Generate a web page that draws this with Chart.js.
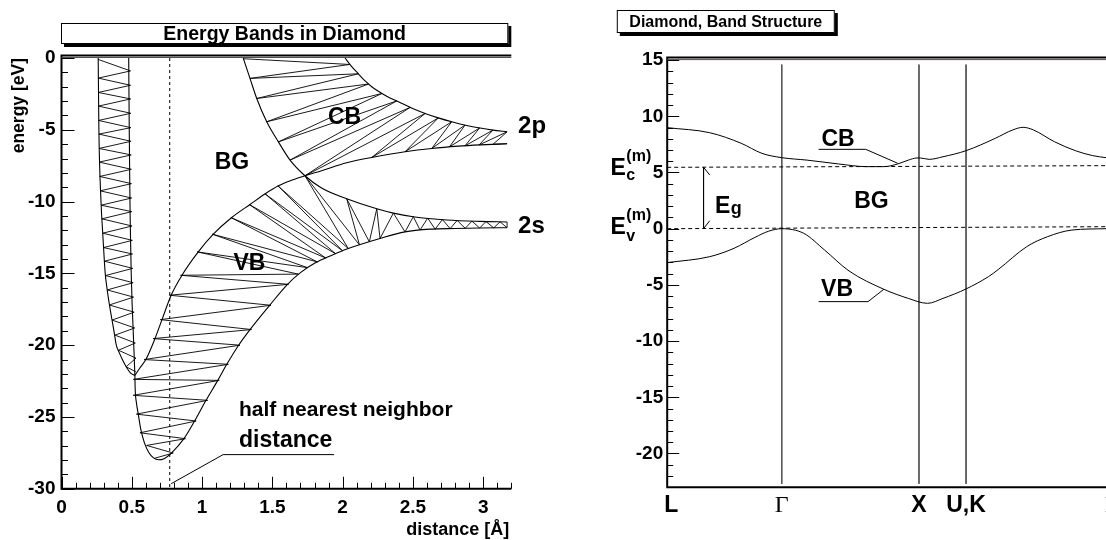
<!DOCTYPE html>
<html>
<head>
<meta charset="utf-8">
<title>Energy Bands in Diamond</title>
<script src="https://cdn.jsdelivr.net/npm/chart.js@4.4.1/dist/chart.umd.min.js"></script>
<style>
  html, body { margin: 0; padding: 0; background: #fff; }
  #page { position: relative; width: 1106px; height: 540px; overflow: hidden; }
  canvas { position: absolute; top: 0; }
</style>
</head>
<body>
<div id="page">
  <canvas id="levels" width="553" height="540" style="left:0"></canvas>
  <canvas id="bands" width="553" height="540" style="left:553px"></canvas>
</div>
<script>
const SANS = "'Liberation Sans', Arial, Helvetica, sans-serif";
const SERIF = "'Liberation Serif', 'Times New Roman', serif";

// ---------------- Left panel: levels vs. interatomic distance ----------------
const distanceTicks = [0, 0.5, 1, 1.5, 2, 2.5, 3];
const levelTicks = [0, -5, -10, -15, -20, -25, -30];

// narrow core band: inner and outer edges
const coreInner = [[0.261,0],[0.266,-5],[0.281,-10],[0.292,-12],[0.304,-14],[0.311,-15],[0.323,-16],[0.338,-17],[0.355,-18],[0.373,-19],[0.39,-20],[0.41,-20.5],[0.433,-21],[0.46,-21.5],[0.49,-21.92],[0.522,-22.1]];
const coreOuter = [[0.478,0],[0.482,-5],[0.487,-10],[0.49,-12],[0.494,-14],[0.496,-15],[0.499,-16],[0.502,-17],[0.506,-18],[0.51,-19],[0.514,-20],[0.518,-21],[0.522,-22.1]];
const coreZigzag = [[0.261,-0.1],[0.491,-0.9],[0.262,-1.4],[0.491,-1.9],[0.262,-2.4],[0.492,-2.85],[0.263,-3.35],[0.493,-3.85],[0.264,-4.35],[0.494,-4.85],[0.266,-5.3],[0.495,-5.8],[0.267,-6.3],[0.496,-6.75],[0.269,-7.25],[0.497,-7.75],[0.272,-8.25],[0.498,-8.75],[0.275,-9.25],[0.499,-9.75],[0.282,-10.25],[0.5,-10.7],[0.287,-11.2],[0.502,-11.7],[0.293,-12.2],[0.504,-12.7],[0.299,-13.2],[0.505,-13.65],[0.305,-14.15],[0.507,-14.65],[0.313,-15.15],[0.51,-15.65],[0.325,-16.15],[0.513,-16.65],[0.34,-17.2],[0.517,-17.7],[0.36,-18.25],[0.521,-18.8],[0.381,-19.3],[0.525,-19.85],[0.405,-20.35],[0.53,-20.9],[0.46,-21.5],[0.528,-21.85]];

// band edges, named after the atomic level they approach at large distance
const edge2sLow = [[0.522,-22.1],[0.524,-23.0],[0.533,-24.0],[0.546,-24.8],[0.565,-25.9],[0.59,-26.8],[0.62,-27.45],[0.655,-27.85],[0.69,-27.98],[0.73,-27.9],[0.782,-27.51],[0.871,-26.51],[0.947,-25.28],[1.028,-23.84],[1.112,-22.45],[1.176,-21.33],[1.26,-20.0],[1.341,-18.91],[1.481,-17.22],[1.608,-15.76],[1.7,-14.95],[1.8,-14.3],[1.92,-13.75],[2.04,-13.27],[2.266,-12.57],[2.444,-12.11],[2.622,-11.92],[2.8,-11.87],[2.978,-11.84],[3.17,-11.82]];
const edge2pLow = [[0.522,-22.1],[0.56,-21.55],[0.6,-21.0],[0.665,-19.54],[0.715,-18.22],[0.78,-16.52],[0.857,-15.13],[0.973,-13.5],[1.08,-12.27],[1.211,-11.11],[1.341,-10.2],[1.45,-9.45],[1.543,-8.9],[1.64,-8.5],[1.732,-8.2],[1.85,-7.85],[2.029,-7.3],[2.207,-6.93],[2.444,-6.53],[2.634,-6.3],[2.823,-6.14],[2.978,-6.05],[3.17,-5.97]];
const edge2sHigh = [[1.293,0],[1.341,-1.42],[1.389,-2.82],[1.46,-4.44],[1.543,-5.84],[1.626,-7.11],[1.732,-8.2],[1.85,-9.05],[2.029,-9.8],[2.243,-10.5],[2.361,-10.8],[2.503,-11.05],[2.741,-11.28],[2.978,-11.38],[3.17,-11.42]];
const edge2pHigh = [[2.017,0],[2.06,-0.55],[2.112,-1.1],[2.16,-1.6],[2.207,-2.0],[2.26,-2.35],[2.32,-2.7],[2.397,-3.05],[2.49,-3.48],[2.587,-3.86],[2.68,-4.17],[2.776,-4.44],[2.875,-4.68],[2.978,-4.88],[3.07,-5.02],[3.17,-5.14]];

// level traces filling the valence / 2s band and the conduction / 2p band
const valenceZigzag = [[0.66,-27.88],[0.795,-27.51],[0.605,-26.98],[0.882,-26.51],[0.558,-26.1],[0.958,-25.28],[0.533,-24.8],[1.04,-23.84],[0.51,-23.49],[1.122,-22.45],[0.512,-22.38],[1.187,-21.33],[0.588,-21.0],[1.27,-20.0],[0.652,-19.54],[1.352,-18.91],[0.703,-18.22],[1.49,-17.22],[0.768,-16.52],[1.615,-15.76],[0.847,-15.13],[1.685,-15.05],[0.965,-13.5],[1.75,-14.6],[1.073,-12.27],[1.82,-14.2],[1.205,-11.11],[1.88,-13.93],[1.336,-10.2],[1.95,-13.63],[1.447,-9.45],[2.0,-13.43],[1.54,-8.9],[2.04,-13.27],[1.732,-8.2],[2.12,-13.02],[2.029,-9.8],[2.19,-12.8],[2.243,-10.5],[2.266,-12.57],[2.361,-10.8],[2.444,-12.11],[2.503,-11.05],[2.551,-11.98],[2.605,-11.15],[2.658,-11.92],[2.71,-11.25],[2.765,-11.88],[2.815,-11.31],[2.872,-11.86],[2.92,-11.36],[2.975,-11.84],[3.02,-11.39],[3.075,-11.83],[3.12,-11.41],[3.17,-11.82],[3.17,-11.42]];
const conductionZigzag = [[1.293,-0.05],[2.05,-0.45],[1.341,-1.42],[2.112,-1.1],[1.389,-2.82],[2.185,-1.81],[1.46,-4.44],[2.28,-2.47],[1.543,-5.84],[2.385,-2.99],[1.626,-7.11],[2.48,-3.44],[1.732,-8.2],[2.587,-3.86],[2.207,-6.93],[2.681,-4.17],[2.444,-6.53],[2.776,-4.44],[2.634,-6.3],[2.871,-4.67],[2.76,-6.19],[2.975,-4.87],[2.87,-6.12],[3.07,-5.02],[2.97,-6.06],[3.17,-5.14],[3.07,-6.01],[3.17,-5.97]];

const halfNeighbour = 0.77;                  // half of the C-C bond length [Å]
const neighbourLeader = [[1.939,-27.62],[1.15,-27.62],[0.781,-29.64]];

// ---------------- Right panel: band structure along the k-path ----------------
const kNames = ['L', 'Γ', 'X', 'U,K', 'Γ'];
const kPos = [0, 0.835, 1.835, 2.178, 3.24];
const bandTicks = [15, 10, 5, 0, -5, -10, -15, -20];

const cbK = [0,0.31,0.539,0.691,0.835,1.02,1.249,1.452,1.579,1.68,1.757,1.82,1.845,1.909,2.01,2.178,2.391,2.517,2.594,2.67,2.822,2.975,3.101,3.198];
const cbE = [8.99,8.54,7.6,6.7,6.32,6.1,5.76,5.52,5.52,5.76,6.1,6.29,6.29,6.17,6.4,6.94,8.04,8.78,9.02,8.78,7.74,6.94,6.5,6.32];
const vbK = [0,0.31,0.488,0.64,0.74,0.835,0.995,1.147,1.325,1.579,1.757,1.897,2.01,2.178,2.341,2.416,2.62,2.772,2.95,3.198];
const vbE = [-3.02,-2.49,-1.74,-0.77,-0.22,0,-0.41,-1.9,-3.76,-5.39,-6.2,-6.64,-6.2,-5.36,-4.27,-3.6,-1.6,-0.71,-0.12,0];

const ecEdge = [5.46, 5.61];   // E_c^(m) marker at both ends of the path
const evEdge = [0, 0.18];      // E_v^(m) marker at both ends of the path
const gapMarkK = 0.265;
const cbLeader = [[1.104,7.06],[1.447,7.06],[1.68,5.82]];
const vbLeader = [[1.104,-6.49],[1.464,-6.49],[1.579,-5.39]];

// ---------------- helpers ----------------
const pts = list => list.map(([x, y]) => ({ x, y }));
const zip = (xs, ys) => xs.map((x, i) => ({ x, y: ys[i] }));

function line(data, extra) {
  return Object.assign({ data, borderColor: '#000', borderWidth: 1, pointRadius: 0, fill: false, tension: 0 }, extra || {});
}
const smooth = { cubicInterpolationMode: 'monotone', borderWidth: 1.1 };

function axisOptions(cfg) {
  const tickFont = { family: SANS, size: 19, weight: 'bold' };
  return {
    x: {
      type: 'linear', min: cfg.xMin, max: cfg.xMax,
      grid: { display: false, drawTicks: false }, border: { display: false },
      afterBuildTicks: s => { s.ticks = (cfg.xTicks || []).map(v => ({ value: v })); },
      ticks: { display: !!cfg.xTicks, autoSkip: false, maxRotation: 0, padding: cfg.xPad, color: '#000', font: tickFont, callback: v => String(v) },
      afterFit: s => { s.height = cfg.xHeight; }
    },
    y: {
      type: 'linear', min: cfg.yMin, max: cfg.yMax,
      grid: { display: false, drawTicks: false }, border: { display: false },
      afterBuildTicks: s => { s.ticks = cfg.yTicks.map(v => ({ value: v })); },
      ticks: { autoSkip: false, padding: cfg.yPad, color: '#000', font: tickFont, callback: v => String(v) },
      afterFit: s => { s.width = cfg.yWidth; }
    }
  };
}

function text(ctx, str, x, y, font, align, base) {
  ctx.font = font; ctx.textAlign = align; ctx.textBaseline = base;
  ctx.fillText(str, x, y);
}

function drawNote(ctx, n, xs, ys) {
  const px = xs.getPixelForValue(n.x), py = ys.getPixelForValue(n.y);
  ctx.fillStyle = '#000';
  text(ctx, n.text, px, py, `bold ${n.size}px ${SANS}`, n.align || 'left', n.base || 'alphabetic');
  if (n.sub || n.sup) {
    ctx.font = `bold ${n.size}px ${SANS}`;
    const w = ctx.measureText(n.text).width;
    if (n.sup) text(ctx, n.sup, px + w + 0.5, py + n.supDy, `bold ${n.smallSize}px ${SANS}`, 'left', 'alphabetic');
    if (n.sub) text(ctx, n.sub, px + w + 0.5, py + n.subDy, `bold ${n.smallSize}px ${SANS}`, 'left', 'alphabetic');
  }
}

function titleBox(ctx, b, str, size) {
  ctx.fillStyle = '#000';
  ctx.fillRect(b.x + 3, b.y + 3, b.w, b.h);
  ctx.fillStyle = '#fff';
  ctx.fillRect(b.x, b.y, b.w, b.h);
  ctx.strokeStyle = '#000'; ctx.lineWidth = 1;
  ctx.strokeRect(b.x + 0.5, b.y + 0.5, b.w - 1, b.h - 1);
  ctx.fillStyle = '#000';
  text(ctx, str, b.x + b.w / 2, b.y + b.h / 2 + 1, `bold ${size}px ${SANS}`, 'center', 'middle');
}

// frame, inward tick marks, title box, labels
function makeDecor(spec) {
  return {
    id: 'decor_' + spec.name,
    afterDraw(chart) {
      const ctx = chart.ctx, a = chart.chartArea, xs = chart.scales.x, ys = chart.scales.y;
      ctx.save();
      ctx.strokeStyle = '#000'; ctx.lineWidth = 2;
      ctx.beginPath();
      ctx.moveTo(a.left, a.top - 2.5); ctx.lineTo(a.right, a.top - 2.5);
      ctx.moveTo(a.left, a.top - 3.5); ctx.lineTo(a.left, a.bottom); ctx.lineTo(a.right, a.bottom);
      ctx.stroke();
      ctx.strokeStyle = '#a82a2a'; ctx.lineWidth = 1;
      ctx.beginPath(); ctx.moveTo(a.left, a.top - 0.5); ctx.lineTo(a.right, a.top - 0.5); ctx.stroke();

      ctx.strokeStyle = '#000'; ctx.lineWidth = 1;
      ctx.beginPath();
      if (spec.xStep) {
        const n = Math.round((xs.max - xs.min) / spec.xStep);
        for (let i = 0; i <= n; i++) {
          const v = xs.min + i * spec.xStep;
          const major = Math.abs(v / spec.xMajor - Math.round(v / spec.xMajor)) < 1e-6;
          const p = Math.round(xs.getPixelForValue(v)) + 0.5;
          ctx.moveTo(p, a.bottom); ctx.lineTo(p, a.bottom - (major ? spec.xLen[0] : spec.xLen[1]));
        }
      }
      for (let v = Math.ceil(ys.min); v <= ys.max + 1e-9; v += spec.yStep) {
        const major = v % spec.yMajor === 0;
        const p = Math.round(ys.getPixelForValue(v)) + 0.5;
        ctx.moveTo(a.left, p); ctx.lineTo(a.left + (major ? spec.yLen[0] : spec.yLen[1]), p);
      }
      ctx.stroke();

      titleBox(ctx, spec.box(a), spec.title, spec.titleSize);
      spec.notes.forEach(n => drawNote(ctx, n, xs, ys));
      if (spec.extra) spec.extra(ctx, a, xs, ys);
      ctx.restore();
    }
  };
}

Chart.defaults.animation = false;
Chart.defaults.color = '#000';

// ---------------- left chart ----------------
const levelNotes = [
  { text: 'BG', x: 1.213, y: -7.29, size: 23, align: 'center', base: 'middle' },
  { text: 'CB', x: 2.014, y: -4.15, size: 23, align: 'center', base: 'middle' },
  { text: 'VB', x: 1.337, y: -14.31, size: 23, align: 'center', base: 'middle' },
  { text: '2p', x: 3.248, y: -5.23, size: 24 },
  { text: '2s', x: 3.248, y: -12.2, size: 24 },
  { text: 'half nearest neighbor', x: 1.263, y: -24.95, size: 21 },
  { text: 'distance', x: 1.263, y: -27.09, size: 23 }
];

new Chart(document.getElementById('levels'), {
  type: 'line',
  data: {
    datasets: [
      line(pts(coreInner), smooth),
      line(pts(coreOuter), smooth),
      line(pts(edge2sLow), smooth),
      line(pts(edge2pLow), smooth),
      line(pts(edge2sHigh), smooth),
      line(pts(edge2pHigh), smooth),
      line(pts(coreZigzag), { borderWidth: 0.9 }),
      line(pts(valenceZigzag), { borderWidth: 0.9 }),
      line(pts(conductionZigzag), { borderWidth: 0.9 }),
      line([{ x: halfNeighbour, y: 0 }, { x: halfNeighbour, y: -30 }], { borderDash: [3, 3] }),
      line(pts(neighbourLeader))
    ]
  },
  options: {
    responsive: false, devicePixelRatio: 1, events: [],
    layout: { padding: { top: 58, right: 41.7, left: 0, bottom: 0 } },
    plugins: { legend: { display: false }, tooltip: { enabled: false } },
    scales: axisOptions({ xMin: 0, xMax: 3.2, yMin: -30, yMax: 0, xTicks: distanceTicks, yTicks: levelTicks,
                          xPad: 8, yPad: 6, xHeight: 51.2, yWidth: 61.5 })
  },
  plugins: [makeDecor({
    name: 'levels', xStep: 0.1, xMajor: 0.5, xLen: [12, 6], yStep: 1, yMajor: 5, yLen: [13, 6.5],
    title: 'Energy Bands in Diamond', titleSize: 19.5,
    box: a => ({ x: a.left - 0.5, y: 23, w: a.right - a.left - 2.5, h: 21 }),
    notes: levelNotes,
    extra: (ctx, a) => {
      ctx.fillStyle = '#000';
      text(ctx, 'distance [Å]', a.right - 2, 535, `bold 18px ${SANS}`, 'right', 'alphabetic');
      ctx.save();
      ctx.translate(19, a.top);
      ctx.rotate(-Math.PI / 2);
      text(ctx, 'energy [eV]', 0, 0, `bold 17.5px ${SANS}`, 'right', 'middle');
      ctx.restore();
    }
  })]
});

// ---------------- right chart ----------------
const bandNotes = [
  { text: 'CB', x: 1.245, y: 7.89, size: 23, align: 'center', base: 'middle' },
  { text: 'VB', x: 1.238, y: -5.45, size: 23, align: 'center', base: 'middle' },
  { text: 'BG', x: 1.489, y: 2.4, size: 23, align: 'center', base: 'middle' },
  { text: 'E', sub: 'g', x: 0.348, y: 1.37, size: 23, smallSize: 18, subDy: 1 },
  { text: 'E', sub: 'c', sup: '(m)', x: -0.413, y: 4.78, size: 23, smallSize: 16, subDy: 5, supDy: -13.5 },
  { text: 'E', sub: 'v', sup: '(m)', x: -0.413, y: -0.47, size: 23, smallSize: 16, subDy: 7, supDy: -13.5 }
];

const kLines = kPos.slice(1, 4).map(k => line([{ x: k, y: 14.6 }, { x: k, y: -22.7 }], { borderColor: '#555' }));
const pathEnd = kPos[kPos.length - 1];

new Chart(document.getElementById('bands'), {
  type: 'line',
  data: {
    datasets: [
      line(zip(cbK, cbE), { cubicInterpolationMode: 'monotone' }),
      line(zip(vbK, vbE), { cubicInterpolationMode: 'monotone' }),
      line(zip([0, pathEnd], ecEdge), { borderDash: [4, 3] }),
      line(zip([0, pathEnd], evEdge), { borderDash: [4, 3] }),
      line([{ x: gapMarkK + 0.045, y: ecEdge[0] - 0.68 }, { x: gapMarkK, y: ecEdge[0] },
            { x: gapMarkK, y: evEdge[0] }, { x: gapMarkK + 0.045, y: evEdge[0] + 0.71 }]),
      line(pts(cbLeader)),
      line(pts(vbLeader)),
      ...kLines
    ]
  },
  options: {
    responsive: false, devicePixelRatio: 1, events: [],
    layout: { padding: { top: 60.1, right: 0, left: 0, bottom: 0 } },
    plugins: { legend: { display: false }, tooltip: { enabled: false } },
    scales: axisOptions({ xMin: 0, xMax: 3.198, yMin: -23, yMax: 15, xTicks: null, yTicks: bandTicks,
                          xPad: 0, yPad: 4, xHeight: 52.8, yWidth: 114.2 })
  },
  plugins: [makeDecor({
    name: 'bands', xStep: 0, yStep: 1, yMajor: 5, yLen: [12, 6],
    title: 'Diamond, Band Structure', titleSize: 16,
    box: () => ({ x: 63.8, y: 10, w: 218, h: 23 }),
    notes: bandNotes,
    extra: (ctx, a, xs) => {
      ctx.fillStyle = '#000';
      kNames.forEach((name, i) => {
        const px = xs.getPixelForValue(kPos[i]);
        if (name === 'Γ') {
          text(ctx, name, px, 512, `24px ${SERIF}`, 'center', 'alphabetic');
        } else {
          text(ctx, name, i === 0 ? px - 3 : px, 512, `bold 23px ${SANS}`, i === 0 ? 'left' : 'center', 'alphabetic');
        }
      });
    }
  })]
});
</script>
</body>
</html>
